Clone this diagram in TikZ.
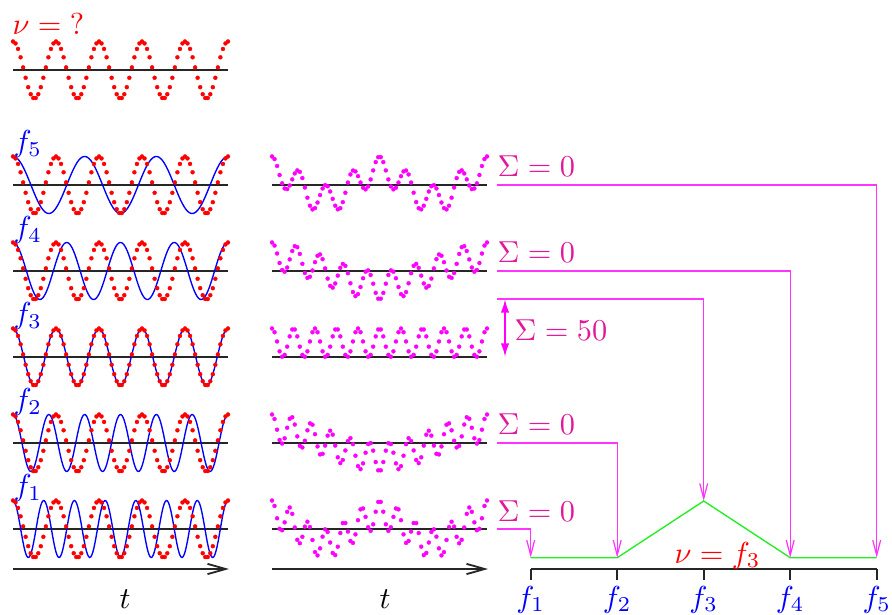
\documentclass[tikz,border=0pt]{standalone}
\usepackage{amsmath}
\usepackage{xcolor}
\usetikzlibrary{positioning,arrows.meta}
\definecolor{senal}{HTML}{FF0000}
\definecolor{patron}{HTML}{0000FF}
\definecolor{producto}{HTML}{FF00FF}
\definecolor{suma}{HTML}{E0189A}
\definecolor{pico}{HTML}{22EE22}

\begin{document}
\begin{tikzpicture}[x=0.33pt, y=-0.33pt,
  eje/.style={black!85, line width=0.6pt},
  onda/.style={patron, line width=0.45pt},
  puntos/.style={only marks, mark=*, mark size=0.66pt, mark options={line width=0.1pt}, domain=0:1, samples=86},
  etiqueta/.style={anchor=base west, inner sep=0pt},
  frec/.style={patron, anchor=base, inner sep=0pt},
  sumlabel/.style={suma, anchor=base west, inner sep=0pt},
  flecha/.style={producto!80, line width=0.4pt, -{Straight Barb[length=5pt, width=2.6pt]}},
  tiempo/.style={eje, -{Straight Barb[length=6pt, width=3.4pt]}},
  doble/.style={producto, line width=0.7pt, {Latex[length=4.5pt, width=2.8pt]}-{Latex[length=4.5pt, width=2.8pt]}}]
  \useasboundingbox (0,0) rectangle (892,615);
  % unknown signal
  \draw[eje] (13,70) -- (228,70);
  \draw[senal, puntos] plot ({13+215*\x}, {70-28.5*cos(1800*\x)});
  \node[etiqueta, senal] (nu) at (12,35) {$\nu = {?}$};
  % test waves and products
  \foreach \k/\f/\yy in {5/3/185, 4/4/271, 3/5/357, 2/6/443, 1/7/529} {
    \draw[eje] (13,\yy) -- (228,\yy);
    \draw[eje] (272,\yy) -- (487,\yy);
    \draw[onda] plot[domain=0:1, samples=200] ({13+215*\x}, {\yy-28.5*cos(360*\f*\x)});
    \draw[senal, puntos] plot ({13+215*\x}, {\yy-28.5*cos(1800*\x)});
    \draw[producto, puntos] plot ({272+215*\x}, {\yy-28.5*cos(1800*\x)*cos(360*\f*\x)});
    \node[etiqueta, patron] (f\k) at (13,\yy-33) {$f_{\k}$};
  }
  % time axes
  \coordinate (ta1) at (13,569);
  \coordinate (ta2) at (229,569);
  \coordinate (tb1) at (272,569);
  \coordinate (tb2) at (488,569);
  \draw[tiempo] (ta1) -- (ta2);
  \draw[tiempo] (tb1) -- (tb2);
  \node[anchor=base, inner sep=0pt] (tA) at (125,608) {$t$};
  \node[anchor=base, inner sep=0pt] (tB) at (385,608) {$t$};
  % spectrum
  \coordinate (e0) at (530.7,569);
  \coordinate (e6) at (876.7,569);
  \draw[eje] (e0) -- (e6);
  \foreach \k in {1,...,5} {
    \coordinate (p\k) at ({530.7+86.5*(\k-1)},557.7);
    \coordinate (m\k) at ({530.7+86.5*(\k-1)},569);
    \node[frec] (e\k) at ({530.7+86.5*(\k-1)},607) {$f_{\k}$};
    \draw[eje] (m\k) -- ++(0,11);
  }
  \coordinate (cima) at (703.7,501);
  \draw[pico, line width=0.45pt] (p1) -- (p2) -- (cima) -- (p4) -- (p5);
  \node[etiqueta, senal] (res) at (674,563) {$\nu = f_3$};
  % sums
  \foreach \k/\yy in {5/185, 4/271, 2/443, 1/529} {
    \coordinate (s\k) at (497,\yy);
    \node[sumlabel] (S\k) at (497,\yy-8) {$\Sigma = 0$};
    \draw[flecha] (s\k) -| (p\k);
  }
  \coordinate (s3) at (497,299);
  \draw[flecha] (s3) -| (cima);
  \coordinate (d1) at (505,299);
  \coordinate (d2) at (505,357);
  \draw[doble] (d1) -- (d2);
  \node[sumlabel] (S3) at (514,341) {$\Sigma = 50$};
\end{tikzpicture}
\end{document}
